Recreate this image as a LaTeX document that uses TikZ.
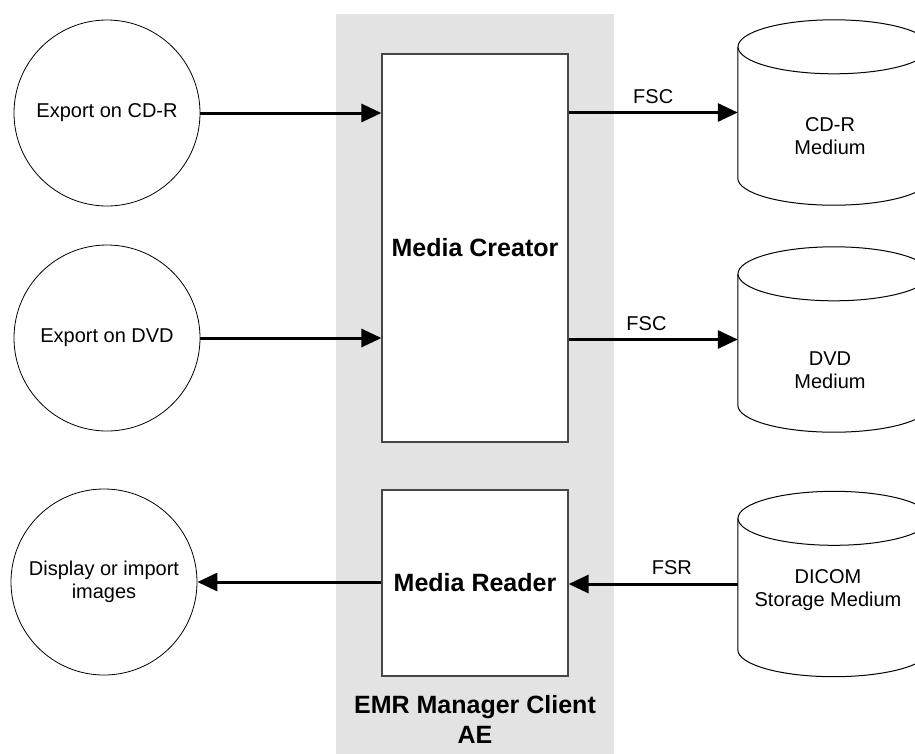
\documentclass[tikz,border=0pt]{standalone}
\usepackage{fontspec}
\setmainfont{Liberation Sans}
\usetikzlibrary{arrows.meta,positioning}
\definecolor{bggray}{RGB}{227,227,227}
\definecolor{boxline}{RGB}{70,70,70}
\tikzset{
  txt/.style={font=\fontsize{20}{23}\selectfont, align=center},
  btxt/.style={font=\fontsize{25}{30}\selectfont\bfseries, align=center},
  proc/.style={circle, draw=black, line width=0.8pt, minimum size=186pt, inner sep=0pt, txt},
  aebox/.style={rectangle, draw=boxline, line width=1.2pt, fill=white, minimum width=186pt, btxt},
  cylbody/.style={rectangle, minimum width=192pt, minimum height=131pt, inner sep=0pt, txt},
  cylline/.style={draw=black, line width=1pt, fill=white},
  arr/.style={line width=3pt, -{Triangle[length=20pt,width=18pt]}},
  lbl/.style={txt, above=4pt}
}
\begin{document}
\begin{tikzpicture}[x=1pt,y=1pt]
\useasboundingbox (0,0) rectangle (915,-753);
\clip (0,0) rectangle (915,-753);
% AE background
\fill[bggray] (336,-14) rectangle (614,-760);
% AE boxes
\node[aebox, minimum height=388pt] (mc) at (475,-248) {Media Creator};
\node[aebox, minimum height=186pt] (mr) at (475,-583) {Media Reader};
\node[btxt] (ae) at (475,-719) {EMR Manager Client\\AE};
% circles
\node[proc] (e1) at (107,-113) {Export on CD-R};
\node[proc] (e2) at (107,-338) {Export on DVD};
\node[proc] (d3) at (104,-582) {Display or import\\images};
% cylinders
\foreach \n/\cy/\ty/\tx/\t in {c1/-112.5/-136/830/{CD-R\\Medium}, c2/-339.5/-370/830/{DVD\\Medium}, c3/-584/-590/828/{DICOM\\Storage Medium}}{
  \node[cylbody] (\n) at (834,\cy) {};
  \draw[cylline] (\n.north west) -- (\n.south west)
     arc[start angle=180, end angle=360, x radius=96pt, y radius=27pt]
     -- (\n.north east);
  \draw[cylline] (\n.north) ellipse[x radius=96pt, y radius=27pt];
  \node[txt] (\n t) at (\tx,\ty) {\t};
}
% connectors
\draw[arr] (e1.east) -- (e1.east -| mc.west);
\draw[arr] (e2.east) -- (e2.east -| mc.west);
\draw[arr] (c1.west -| mc.east) -- node[lbl, pos=0.5] (l1) {FSC} (c1.west);
\draw[arr] (c2.west -| mc.east) -- node[lbl, pos=0.46] (l2) {FSC} (c2.west);
\draw[arr] (c3.west) -- node[lbl, pos=0.39] (l3) {FSR} (c3.west -| mr.east);
\draw[arr] (mr.west |- d3.east) -- (d3.east);
\end{tikzpicture}
\end{document}
